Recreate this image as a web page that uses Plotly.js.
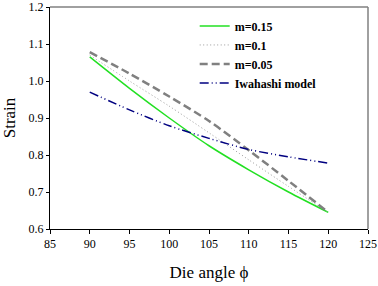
<!DOCTYPE html>
<html><head><meta charset="utf-8">
<script src="https://cdn.plot.ly/plotly-3.0.1.min.js"></script>
<style>html,body{margin:0;padding:0;background:#fff}#c{width:378px;height:286px}</style>
</head><body><div id="c"></div>
<script>
var angles = [90, 95, 100, 105, 110, 115, 120];
var m015 = [1.065, 0.98, 0.90, 0.825, 0.76, 0.70, 0.645];
var m01 = [1.07, 1.00, 0.932, 0.86, 0.787, 0.715, 0.645];
var m005 = [1.078, 1.02, 0.958, 0.892, 0.813, 0.73, 0.645];
var iwahashi = [0.97, 0.922, 0.879, 0.845, 0.815, 0.795, 0.778];
var seriesNames = ['m=0.15', 'm=0.1', 'm=0.05', 'Iwahashi model'];
var xTicks = [85, 90, 95, 100, 105, 110, 115, 120, 125];
var yTicks = [0.6, 0.7, 0.8, 0.9, 1.0, 1.1, 1.2];

var traces = [
  {x: angles, y: m015, name: seriesNames[0], mode: 'lines', line: {color: '#22e022', width: 1.5, shape: 'spline', smoothing: 0.8}},
  {x: angles, y: m01, name: seriesNames[1], mode: 'lines', line: {color: '#9a9a9a', width: 1, dash: '1px,2.5px', shape: 'spline', smoothing: 0.8}},
  {x: angles, y: m005, name: seriesNames[2], mode: 'lines', line: {color: '#808080', width: 2.5, dash: '8px,4px', shape: 'spline', smoothing: 0.8}},
  {x: angles, y: iwahashi, name: seriesNames[3], mode: 'lines', line: {color: '#000080', width: 1.5, dash: '9px,3px,1px,3px,1px,3px', shape: 'spline', smoothing: 0.8}}
];
var serif = '"Liberation Serif", "Times New Roman", Times, serif';
var layout = {
  width: 378, height: 286,
  margin: {l: 50, r: 10, t: 7, b: 57},
  paper_bgcolor: '#fff', plot_bgcolor: '#fff',
  font: {family: serif, size: 12, color: '#000'},
  xaxis: {range: [85, 125], tickvals: xTicks, ticktext: xTicks.map(String), ticks: 'outside', ticklen: 4, tickcolor: '#000',
    showline: true, linecolor: '#000', linewidth: 1, showgrid: false, zeroline: false,
    title: {text: 'Die angle \u03d5', font: {family: serif, size: 17}, standoff: 15}, tickfont: {family: serif, size: 12}},
  yaxis: {range: [0.6, 1.2], tickvals: yTicks, ticktext: yTicks.map(function(v){return v.toFixed(1);}), ticks: 'outside', ticklen: 3, tickcolor: '#000',
    showline: true, linecolor: '#000', linewidth: 1, showgrid: false, zeroline: false,
    title: {text: 'Strain', font: {family: serif, size: 17}, standoff: 8}, tickfont: {family: serif, size: 12}},
  legend: {x: 0.455, y: 0.98, xanchor: 'left', yanchor: 'top', bgcolor: 'rgba(0,0,0,0)', font: {family: serif, size: 12, weight: 'bold'}, tracegroupgap: 0, itemwidth: 30},
  shapes: [
    {type: 'line', xref: 'paper', yref: 'paper', x0: 0, x1: 1, y0: 1, y1: 1, line: {color: '#808080', width: 1.5}},
    {type: 'line', xref: 'paper', yref: 'paper', x0: 1, x1: 1, y0: 0, y1: 1, line: {color: '#808080', width: 1.5}}
  ],
  showlegend: true
};
Plotly.newPlot('c', traces, layout, {staticPlot: true});
</script></body></html>
